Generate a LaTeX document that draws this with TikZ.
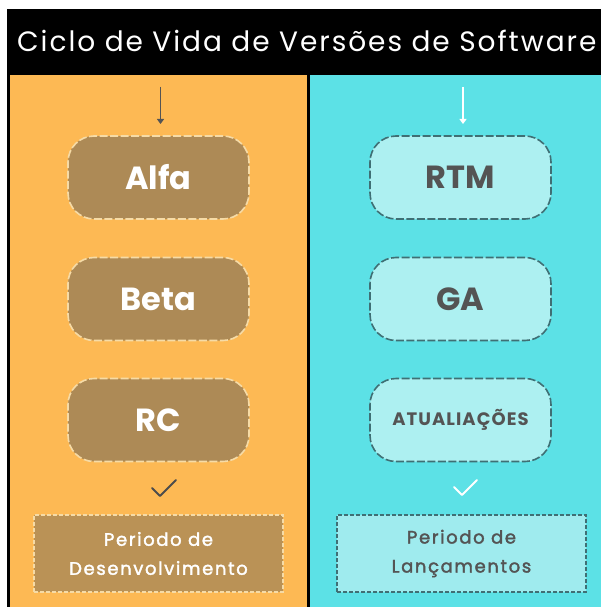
\documentclass[tikz,border=0pt]{standalone}
\usepackage{fontspec}
\setmainfont{Poppins}
\newfontfamily\hdfont[LetterSpace=7]{Poppins}
\newfontfamily\spfont[LetterSpace=9,FakeBold=2]{Poppins}
\newfontfamily\upfont[LetterSpace=6]{Poppins}
\usetikzlibrary{arrows.meta}
\definecolor{orangebg}{HTML}{FDB954}
\definecolor{cyanbg}{HTML}{5CE1E6}
\definecolor{brownbox}{HTML}{AD8A56}
\definecolor{brownbox2}{HTML}{BA9256}
\definecolor{lightedge}{HTML}{F6DBA6}
\definecolor{lightcyan}{HTML}{ADF0F1}
\definecolor{lightcyan2}{HTML}{9FEBEE}
\definecolor{tealedge}{HTML}{3F6F74}
\definecolor{darktext}{HTML}{545454}
\tikzset{
  stagebox/.style={rounded corners=26pt, minimum width=181pt, minimum height=83pt, line width=1.6pt, dash pattern=on 8pt off 2.5pt, font=\fontsize{32}{36}\selectfont\bfseries},
  leftstage/.style={stagebox, fill=brownbox, draw=lightedge, text=white},
  rightstage/.style={stagebox, fill=lightcyan, draw=tealedge, text=darktext},
  periodbox/.style={minimum width=249pt, minimum height=77pt, line width=1.1pt, dash pattern=on 4pt off 2pt, font=\spfont\fontsize{18}{29}\selectfont, align=center},
  leftperiod/.style={periodbox, fill=brownbox2, draw=lightedge, text=white},
  rightperiod/.style={periodbox, fill=lightcyan2, draw=tealedge, text=darktext},
  flowarrow/.style={line width=1.4pt, -{Triangle[length=5pt,width=7pt]}},
  checkmark/.style={line width=1.8pt, line cap=round, line join=round}
}
\begin{document}
\begin{tikzpicture}[x=1pt,y=-1pt]
\useasboundingbox (0,0) rectangle (601,607);
\fill[white] (0,0) rectangle (601,607);
% panels
\fill[orangebg] (8,75) rectangle (308,607);
\fill[cyanbg] (308,75) rectangle (601,607);
\fill[black] (7,75) rectangle (9.5,607);
\fill[black] (307,75) rectangle (310,607);
% header
\fill[black] (7,9) rectangle (601,75);
\node[text=white, font=\hdfont\fontsize{28}{32}\selectfont, anchor=west, inner sep=0pt] (title) at (17,41) {Ciclo de Vida de Versões de Software};
% left column
\node[leftstage] (alfa) at (158.5,177.5) {Alfa};
\node[leftstage] (beta) at (158.5,299) {Beta};
\node[leftstage] (rc) at (158.5,420) {RC};
\coordinate (la) at (160.5,87);
\coordinate (lb) at (160.5,124);
\draw[flowarrow, draw=darktext, fill=darktext] (la) -- (lb);
\coordinate (lc1) at (152,488);
\coordinate (lc2) at (160,496);
\coordinate (lc3) at (176,480);
\draw[checkmark, draw=darktext!90!black] (lc1) -- (lc2) -- (lc3);
\node[leftperiod] (dev) at (158.5,553.5) {Periodo de\\Desenvolvimento};
% right column
\node[rightstage] (rtm) at (460.5,177.5) {RTM};
\node[rightstage] (ga) at (460.5,299) {GA};
\node[rightstage, font=\upfont\fontsize{18}{21}\selectfont\bfseries] (upd) at (460.5,420) {ATUALIAÇÕES};
\coordinate (ra) at (463,87);
\coordinate (rb) at (463,124);
\draw[flowarrow, draw=white, fill=white] (ra) -- (rb);
\coordinate (rc1) at (454,487);
\coordinate (rc2) at (462,495);
\coordinate (rc3) at (477,480);
\draw[checkmark, draw=white] (rc1) -- (rc2) -- (rc3);
\node[rightperiod] (lanc) at (461.5,553.5) {Periodo de\\Lançamentos};
\end{tikzpicture}
\end{document}
